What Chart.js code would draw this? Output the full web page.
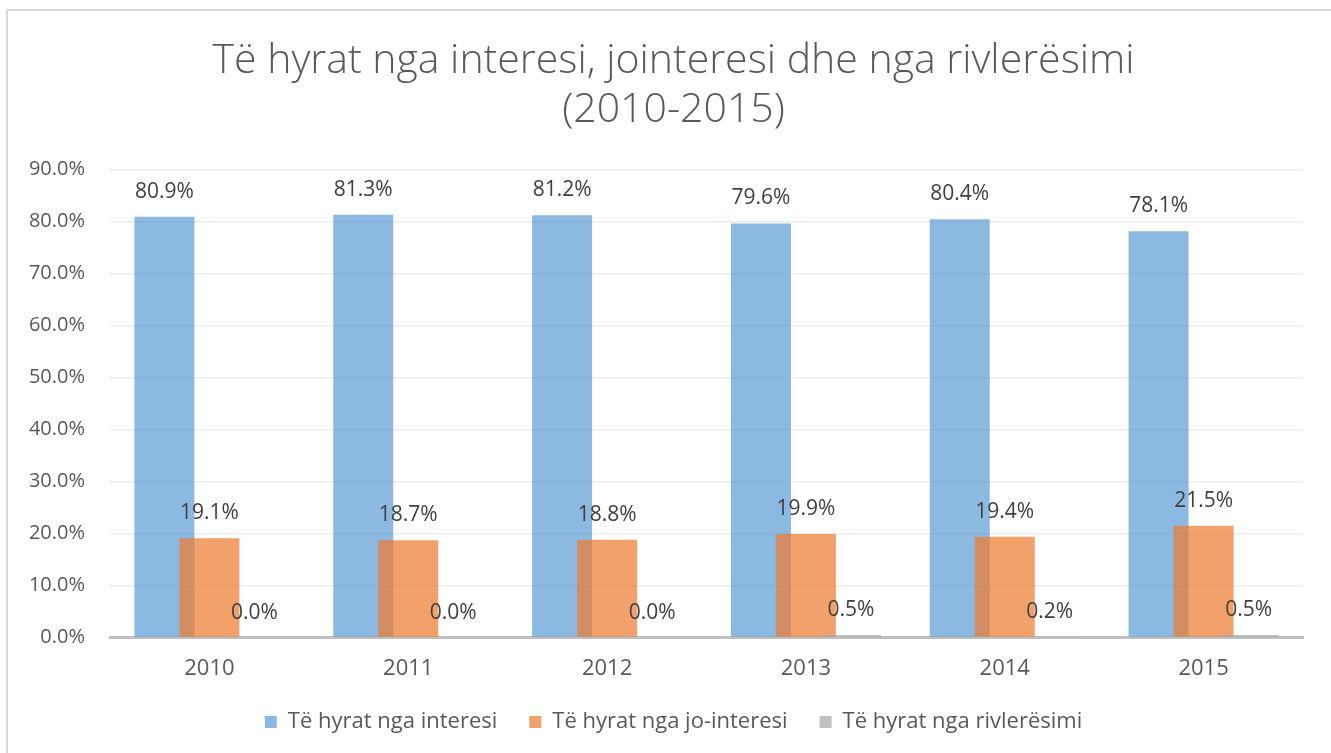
<!DOCTYPE html>
<html><head><meta charset="utf-8">
<script src="https://cdn.jsdelivr.net/npm/chart.js@4/dist/chart.umd.min.js"></script>
<style>
html,body{margin:0;padding:0;background:#fff;overflow:hidden;width:1331px;height:753px}
#frame{position:absolute;left:6px;top:9px;width:2000px;height:2000px;border-left:2px solid #d9d9d9;border-top:2px solid #d9d9d9;box-sizing:border-box}
#wrap{position:absolute;left:0;top:0;width:1331px;height:753px}
</style></head><body>
<div id="frame"></div>
<div id="wrap"><canvas id="c" width="1331" height="753"></canvas></div>
<script>
const categories = ['2010', '2011', '2012', '2013', '2014', '2015'];
const seriesNames = ['Të hyrat nga interesi', 'Të hyrat nga jo-interesi', 'Të hyrat nga rivlerësimi'];
const interestValues = [80.9, 81.3, 81.2, 79.6, 80.4, 78.1];
const nonInterestValues = [19.1, 18.7, 18.8, 19.9, 19.4, 21.5];
const revaluationValues = [0.0, 0.0, 0.0, 0.5, 0.2, 0.5];
const titleLines = ['Të hyrat nga interesi, jointeresi dhe nga rivlerësimi', '(2010-2015)'];

const FONT = "'Open Sans', sans-serif";

const drawOrderAndLabels = {
  id: 'drawOrderAndLabels',
  beforeDatasetsDraw(chart) {
    const metas = chart.getSortedVisibleDatasetMetas().slice().sort((a, b) => a.index - b.index);
    metas.forEach(m => chart._drawDataset(m));
    const ctx = chart.ctx;
    ctx.save();
    ctx.font = '21px ' + FONT;
    ctx.fillStyle = '#404040';
    ctx.textAlign = 'center';
    ctx.textBaseline = 'middle';
    metas.forEach(m => {
      const ds = chart.data.datasets[m.index];
      m.data.forEach((bar, i) => {
        ctx.fillText(ds.data[i].toFixed(1) + '%', bar.x, bar.y - 25);
      });
    });
    ctx.restore();
    return false;
  }
};

new Chart(document.getElementById('c'), {
  type: 'bar',
  data: {
    labels: categories,
    datasets: [
      { label: seriesNames[0], data: interestValues, backgroundColor: 'rgba(91,155,213,0.7)' },
      { label: seriesNames[1], data: nonInterestValues, backgroundColor: 'rgba(237,125,49,0.72)' },
      { label: seriesNames[2], data: revaluationValues, backgroundColor: 'rgba(165,165,165,0.7)' }
    ]
  },
  options: {
    responsive: false,
    animation: false,
    devicePixelRatio: 1,
    datasets: { bar: { categoryPercentage: 0.679, barPercentage: 1.333 } },
    layout: { padding: { left: 16, right: 0, top: 0, bottom: 10 } },
    plugins: {
      tooltip: { enabled: false },
      title: {
        display: true,
        text: titleLines,
        color: '#595959',
        font: { family: FONT, size: 41, weight: '300', lineHeight: 1.2 },
        padding: { top: 37, bottom: 34 }
      },
      legend: {
        position: 'bottom',
        labels: {
          color: '#595959',
          font: { family: FONT, size: 22 },
          boxWidth: 12,
          boxHeight: 12,
          padding: 32
        }
      }
    },
    scales: {
      x: {
        afterFit(scale) { scale.height = scale.height - 21; },
        grid: { display: false, drawTicks: false },
        border: { display: true, color: '#bfbfbf', width: 3 },
        ticks: { color: '#595959', font: { family: FONT, size: 22 }, padding: 18 }
      },
      y: {
        min: 0,
        max: 90,
        afterFit(scale) { scale.width = 94; },
        grid: { color: '#ececec', lineWidth: 1.5, drawTicks: false },
        border: { display: false },
        ticks: {
          stepSize: 10,
          color: '#595959',
          font: { family: FONT, size: 20 },
          padding: 25,
          callback: v => v.toFixed(1) + '%'
        }
      },
      yRightSpace: {
        axis: 'y',
        position: 'right',
        min: 0,
        max: 90,
        afterFit(scale) { scale.width = 28; },
        grid: { display: false, drawTicks: false },
        border: { display: false },
        ticks: { display: false }
      }
    }
  },
  plugins: [drawOrderAndLabels]
});
</script>
</body></html>
